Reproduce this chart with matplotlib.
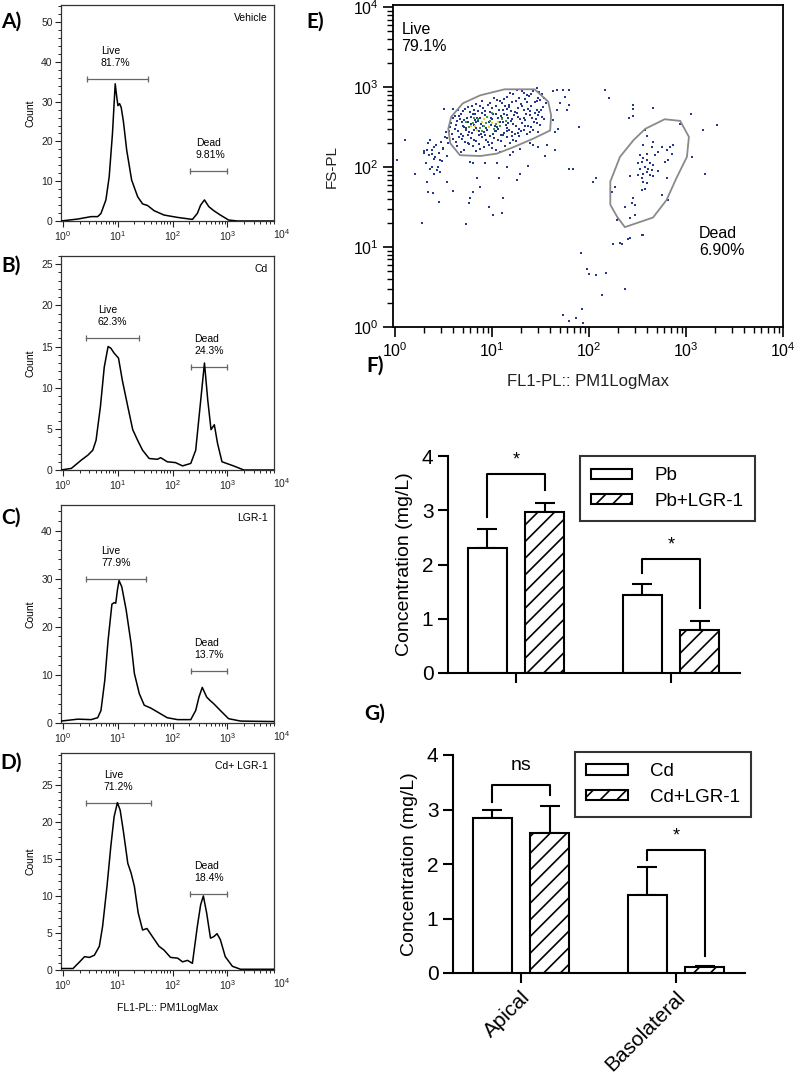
import matplotlib
matplotlib.use("Agg")
import matplotlib.pyplot as plt
import numpy as np
from matplotlib.patches import Polygon
from matplotlib.ticker import LogLocator, NullFormatter, MultipleLocator

plt.rcParams['font.family'] = ['Liberation Sans', 'DejaVu Sans']
plt.rcParams['mathtext.default'] = 'regular'
plt.rcParams['hatch.linewidth'] = 1.2

# ---------------- A-D: FL1 histograms (log10 FL1, count) ----------------
a_log_fl = [-0.04, 0.27, 0.51, 0.63, 0.69, 0.78, 0.84, 0.90, 0.95, 0.98, 1.00, 1.03, 1.06, 1.10,
            1.16, 1.25, 1.36, 1.45, 1.54, 1.66, 1.84, 2.09, 2.36, 2.45, 2.51, 2.58, 2.66, 2.75,
            2.87, 3.02, 3.18, 3.85]
a_count = [0, 0.5, 1.1, 1.1, 1.9, 5.3, 11.1, 22, 34.5, 31, 29, 29.5, 28.5, 25,
           17.8, 10.3, 6.1, 4.3, 3.9, 2.6, 1.5, 0.9, 0.4, 1.9, 4.0, 5.3, 3.6, 2.6,
           1.5, 0.25, 0, 0]

b_log_fl = [-0.04, 0.15, 0.33, 0.45, 0.54, 0.60, 0.68, 0.75, 0.82, 0.87, 0.93, 1.01, 1.08, 1.18,
            1.27, 1.36, 1.45, 1.57, 1.72, 1.78, 1.90, 2.05, 2.18, 2.33, 2.42, 2.50, 2.58, 2.64,
            2.70, 2.76, 2.82, 2.90, 3.11, 3.30, 3.85]
b_count = [0, 0.2, 1.2, 1.8, 2.4, 3.6, 7.7, 12.5, 15.0, 14.8, 14.2, 13.6, 10.9, 7.7,
           4.9, 3.6, 2.4, 1.4, 1.3, 1.5, 1.0, 0.9, 0.5, 0.8, 2.4, 7.7, 13.0, 8.5,
           4.9, 5.5, 3.2, 1.0, 0.5, 0, 0]

c_log_fl = [-0.04, 0.27, 0.51, 0.63, 0.69, 0.76, 0.82, 0.89, 0.93, 0.96, 0.99, 1.02, 1.07, 1.15,
            1.24, 1.30, 1.39, 1.48, 1.60, 1.72, 1.90, 2.09, 2.33, 2.42, 2.48, 2.54, 2.62, 2.68,
            2.75, 2.87, 3.02, 3.24, 3.85]
c_count = [0.4, 0.8, 0.7, 1.1, 2.6, 8.9, 17.2, 24.7, 25, 24.9, 27.6, 29.6, 28.3, 23.5,
           16.5, 10.3, 6.1, 3.7, 3.1, 2.3, 1.1, 0.7, 0.7, 2.6, 5.4, 7.4, 5.4, 4.7,
           4.0, 2.6, 0.9, 0.4, 0.3]

d_log_fl = [-0.04, 0.18, 0.30, 0.39, 0.48, 0.57, 0.66, 0.72, 0.80, 0.87, 0.93, 0.99, 1.04, 1.10,
            1.18, 1.24, 1.30, 1.37, 1.45, 1.53, 1.63, 1.75, 1.84, 1.96, 2.09, 2.18, 2.27, 2.36,
            2.45, 2.51, 2.56, 2.62, 2.69, 2.75, 2.81, 2.87, 2.96, 3.09, 3.24, 3.85]
d_count = [0.2, 0.2, 1.1, 1.8, 1.7, 2.0, 3.2, 5.9, 11.3, 16.7, 20.7, 22.6, 21.6, 18.7,
           14.4, 13.1, 11.3, 7.7, 5.4, 5.6, 4.5, 3.2, 2.7, 1.7, 1.6, 1.1, 1.3, 0.9,
           5.9, 8.8, 10.0, 7.7, 4.3, 4.5, 4.9, 4.1, 1.8, 0.5, 0.1, 0.1]

hist_names = ['Vehicle', 'Cd', 'LGR-1', 'Cd+ LGR-1']
hist_letters = ['A)', 'B)', 'C)', 'D)']
live_pct = ['81.7%', '62.3%', '77.9%', '71.2%']
dead_pct = ['9.81%', '24.3%', '13.7%', '18.4%']
# gate: (log10 start, log10 end, count level, log10 x of label)
live_gates = [(0.43, 1.54, 35.7, 0.69), (0.41, 1.39, 16.0, 0.63),
              (0.41, 1.52, 30.0, 0.69), (0.41, 1.60, 22.5, 0.74)]
dead_gates = [(2.32, 3.00, 12.6, 2.42), (2.33, 3.00, 12.5, 2.40),
              (2.33, 3.00, 10.8, 2.40), (2.32, 2.99, 10.3, 2.39)]
hist_ymax = [54.3, 26.0, 45.3, 29.3]
hist_major = [10, 5, 10, 5]
hist_minor = [2, 1, 2, 1]

# ---------------- E: FL1 vs FS dot plot (log10 values) ----------------
e_live_x = [1.15, 1.22, 1.28, 1.33, 1.38, 1.42, 1.47, 1.52, 1.25, 1.36, 1.44, 1.50, 1.05, 0.98, 1.10, 1.18, 1.30, 1.56,
            0.75, 0.82, 0.88, 0.93, 1.00, 1.07, 1.13, 1.20, 1.27, 1.33, 1.40, 1.46, 1.53, 0.70, 0.96, 1.16, 1.37, 1.49,
            0.62, 0.68, 0.74, 0.80, 0.85, 0.90, 0.95, 1.01, 1.06, 1.12, 1.17, 1.23, 1.29, 1.35, 1.41, 1.47, 1.54,
            0.77, 0.92, 1.09, 1.26, 1.44,
            0.58, 0.64, 0.70, 0.75, 0.81, 0.86, 0.91, 0.97, 1.03, 1.08, 1.14, 1.20, 1.25, 1.31, 1.37, 1.43, 1.50,
            0.67, 0.83, 1.00, 1.17, 1.34,
            0.56, 0.62, 0.68, 0.73, 0.79, 0.84, 0.89, 0.95, 1.01, 1.06, 1.12, 1.18, 1.24, 1.30, 1.36, 1.42,
            0.71, 0.87, 1.04, 1.21, 1.47,
            0.60, 0.66, 0.72, 0.78, 0.84, 0.90, 0.96, 1.02, 1.09, 1.15, 1.22, 1.28, 0.75, 0.93, 1.11,
            0.64, 0.71, 0.80, 0.88, 0.97, 1.04, 1.13, 0.76,
            0.32, 0.35, 0.38, 0.40, 0.42, 0.45, 0.47, 0.50, 0.52, 0.36, 0.44, 0.48, 0.30, 0.54, 0.40, 0.46,
            1.19, 1.31, 1.40, 1.48,
            0.90, 1.02, 1.12, 1.21, 1.34, 1.46, 1.54, 0.84,
            0.72, 0.79, 0.86, 0.91, 0.98, 1.04, 1.11, 1.18, 1.24, 1.31, 1.39, 1.51, 0.65,
            0.60, 0.66, 0.71, 0.78, 0.83, 0.88, 0.93, 0.99, 1.04, 1.10, 1.15, 1.21, 1.27, 1.33, 1.39, 1.45, 1.52,
            0.57, 0.63, 0.69, 0.73, 0.78, 0.84, 0.89, 0.94, 0.99, 1.05, 1.11, 1.16, 1.22, 1.28, 1.34, 1.40, 1.46,
            0.59, 0.65, 0.70, 0.76, 0.81, 0.87, 0.92, 0.98, 1.03, 1.09, 1.15, 1.21, 1.27, 1.33, 1.39,
            0.63, 0.69, 0.75, 0.81, 0.87, 0.94, 1.00, 1.06, 1.19, 1.25,
            0.68, 0.84, 0.92, 1.00, 1.08]
e_live_y = [2.88, 2.91, 2.86, 2.93, 2.89, 2.95, 2.87, 2.92, 2.83, 2.82, 2.81, 2.84, 2.84, 2.80, 2.80, 2.78, 2.79, 2.80,
            2.75, 2.72, 2.77, 2.70, 2.74, 2.71, 2.76, 2.70, 2.74, 2.71, 2.76, 2.72, 2.75, 2.70, 2.78, 2.73, 2.73, 2.69,
            2.64, 2.67, 2.62, 2.66, 2.61, 2.68, 2.63, 2.66, 2.61, 2.67, 2.62, 2.65, 2.60, 2.66, 2.62, 2.65, 2.60,
            2.69, 2.60, 2.64, 2.68, 2.68,
            2.55, 2.58, 2.52, 2.57, 2.53, 2.58, 2.51, 2.56, 2.52, 2.57, 2.53, 2.58, 2.51, 2.55, 2.52, 2.57, 2.53,
            2.60, 2.59, 2.60, 2.55, 2.59,
            2.45, 2.48, 2.42, 2.47, 2.43, 2.49, 2.41, 2.46, 2.42, 2.48, 2.43, 2.47, 2.41, 2.45, 2.42, 2.47,
            2.50, 2.45, 2.45, 2.44, 2.44,
            2.35, 2.38, 2.32, 2.37, 2.33, 2.38, 2.31, 2.36, 2.33, 2.38, 2.34, 2.39, 2.40, 2.40, 2.40,
            2.26, 2.22, 2.27, 2.23, 2.28, 2.21, 2.26, 2.29,
            2.05, 2.15, 2.22, 2.10, 2.28, 2.18, 2.32, 2.24, 2.38, 1.98, 2.00, 2.08, 2.18, 2.14, 1.92, 1.94,
            2.93, 2.95, 2.92, 2.94,
            2.83, 2.86, 2.85, 2.82, 2.85, 2.83, 2.86, 2.79,
            2.73, 2.77, 2.70, 2.74, 2.69, 2.76, 2.72, 2.75, 2.69, 2.77, 2.70, 2.71, 2.72,
            2.61, 2.64, 2.59, 2.63, 2.66, 2.62, 2.65, 2.62, 2.66, 2.61, 2.65, 2.60, 2.63, 2.61, 2.65, 2.60, 2.63,
            2.50, 2.53, 2.56, 2.49, 2.54, 2.56, 2.54, 2.49, 2.53, 2.50, 2.56, 2.49, 2.54, 2.48, 2.52, 2.50, 2.55,
            2.42, 2.45, 2.39, 2.44, 2.47, 2.40, 2.44, 2.39, 2.45, 2.40, 2.45, 2.39, 2.43, 2.47, 2.44,
            2.31, 2.35, 2.30, 2.34, 2.29, 2.34, 2.30, 2.34, 2.30, 2.33,
            2.19, 2.20, 2.25, 2.24, 2.19]
e_core_x = [0.80, 0.86, 0.92, 0.98, 1.04, 0.88, 1.10, 0.76, 0.95, 1.02, 0.82, 0.90, 1.08, 0.73, 1.00, 0.94, 1.14]
e_core_y = [2.55, 2.60, 2.52, 2.58, 2.54, 2.49, 2.60, 2.50, 2.63, 2.48, 2.62, 2.45, 2.52, 2.56, 2.68, 2.55, 2.58]
e_hot_x = [0.83, 0.90, 0.97, 0.85, 1.06, 0.92, 0.78, 1.00]
e_hot_y = [2.52, 2.57, 2.50, 2.46, 2.57, 2.60, 2.52, 2.55]
e_dead_x = [2.457, 2.457, 2.656, 2.457, 2.416, 3.048, 3.316, 2.938, 3.178, 2.577, 2.595, 2.663, 2.56, 2.646, 2.749,
            2.835, 2.869, 2.801, 2.852, 2.595, 2.526, 2.68, 2.715, 2.56, 2.595, 2.543, 2.508, 2.629, 2.818, 2.784,
            2.577, 2.611, 2.646, 2.663, 2.526, 2.595, 2.56, 2.629, 2.543, 2.56, 2.595, 2.577, 2.543, 2.508, 2.715,
            2.801, 2.423, 2.457, 2.44, 2.371, 2.474, 2.474, 2.749, 2.818, 2.285, 2.423, 2.543, 2.25, 2.337, 3.059,
            3.196, 2.663]
e_dead_y = [2.775, 2.73, 2.745, 2.64, 2.61, 2.67, 2.525, 2.54, 2.47, 2.46, 2.39, 2.32, 2.275, 2.255, 2.255,
            2.255, 2.275, 2.21, 2.17, 2.17, 2.15, 2.15, 2.19, 2.11, 2.09, 2.07, 2.05, 2.05, 2.09, 2.07,
            2.00, 1.98, 1.96, 2.025, 1.98, 1.94, 1.92, 1.90, 1.86, 1.82, 1.80, 1.73, 1.71, 1.90, 1.95,
            1.86, 1.89, 1.62, 1.55, 1.50, 1.525, 1.40, 1.65, 1.59, 1.34, 1.11, 1.15, 1.04, 1.04, 2.13,
            1.91, 1.89]
e_other_x = [0.017, 0.103, 0.206, 0.275, 0.326, 0.337, 0.395, 0.457, 0.533, 0.595, 0.732, 0.766, 0.773, 0.808,
             0.842, 0.876, 0.972, 1.007, 1.11, 1.10, 1.075, 1.15, 1.255, 1.289, 1.375, 1.426, 1.546, 1.65,
             1.797, 1.832, 1.90, 1.914, 1.983, 2.003, 2.07, 2.13, 2.175, 1.735, 1.797, 1.866, 1.925, 1.935,
             2.044, 2.072, 2.165, 2.21, 2.371, 2.405, 2.32, 2.553, 2.234, 2.268, 2.296, 2.423,
             1.632, 1.667, 1.735, 1.797, 1.753, 1.797, 1.70, 1.77, 1.673, 1.632, 1.684, 1.65, 1.564, 1.478,
             1.39, 1.289, 1.186, 1.22, 1.048, 0.928, 0.808, 0.773, 0.505, 0.60, 1.46, 1.255, 1.358, 1.082,
             0.361, 0.378, 0.412, 0.326, 0.299, 0.378, 0.43, 0.464, 0.498, 0.55, 0.522, 0.533, 0.344, 0.402]
e_other_y = [2.096, 2.34, 1.92, 1.30, 1.82, 1.69, 1.68, 1.57, 1.82, 1.70, 1.29, 1.55, 1.62, 1.69,
             1.86, 1.75, 1.50, 1.40, 1.62, 1.43, 1.87, 2.00, 1.84, 1.92, 2.02, 2.275, 2.14, 2.22,
             1.98, 1.98, 2.50, 0.93, 0.73, 0.66, 0.65, 0.40, 0.68, 0.15, 0.08, 0.11, 0.22, 0.046,
             1.82, 1.87, 2.96, 2.87, 0.48, 1.10, 1.05, 1.15, 1.69, 1.75, 1.35, 1.37,
             2.95, 2.97, 2.96, 2.97, 2.88, 2.775, 2.80, 2.71, 2.71, 2.59, 2.48, 2.44, 2.275, 2.25,
             2.30, 2.23, 2.15, 2.19, 2.05, 2.05, 2.05, 2.07, 2.73, 2.73, 2.99, 2.96, 2.90, 2.83,
             2.34, 2.17, 2.13, 2.21, 2.20, 2.00, 1.96, 2.09, 2.23, 2.30, 2.44, 2.36, 2.30, 2.25]
live_gate_x = [0.55, 0.58, 0.70, 0.88, 1.13, 1.44, 1.58, 1.61, 1.60, 1.43, 1.22, 1.05, 0.88, 0.67, 0.57]
live_gate_y = [2.48, 2.63, 2.80, 2.90, 2.975, 2.975, 2.82, 2.65, 2.46, 2.36, 2.25, 2.17, 2.14, 2.15, 2.30]
dead_gate_x = [2.22, 2.32, 2.46, 2.58, 2.78, 2.94, 3.03, 3.01, 2.90, 2.80, 2.66, 2.37, 2.29, 2.22]
dead_gate_y = [1.82, 2.13, 2.34, 2.48, 2.60, 2.58, 2.38, 2.13, 1.86, 1.59, 1.37, 1.25, 1.38, 1.53]

# ---------------- F, G: metal concentrations (mg/L) ----------------
sides = ['Apical', 'Basolateral']
pb = [2.31, 1.44]
pb_err = [0.35, 0.20]
pb_lgr = [2.97, 0.79]
pb_lgr_err = [0.16, 0.17]
cd = [2.84, 1.43]
cd_err = [0.15, 0.51]
cd_lgr = [2.57, 0.11]
cd_lgr_err = [0.50, 0.02]
f_marks = ['*', '*']
g_marks = ['ns', '*']


def log_ticks(ax, axis, size):
    loc = getattr(ax, axis + 'axis')
    loc.set_minor_locator(LogLocator(base=10, subs=np.arange(2, 10), numticks=20))
    loc.set_minor_formatter(NullFormatter())
    ticks = [1, 10, 100, 1000, 10000][:size]
    labels = ['$10^{%d}$' % i for i in range(size)]
    if axis == 'x':
        ax.set_xticks(ticks)
        ax.set_xticklabels(labels)
    else:
        ax.set_yticks(ticks)
        ax.set_yticklabels(labels)


def draw_histogram(ax, i, log_fl, count):
    ax.plot(10.0 ** np.array(log_fl), count, color='black', lw=1.1, zorder=3)
    ax.set_xscale('log')
    ax.set_xlim(10 ** -0.04, 10 ** 3.85)
    ax.set_ylim(0, hist_ymax[i])
    log_ticks(ax, 'x', 4)
    ax.yaxis.set_major_locator(MultipleLocator(hist_major[i]))
    ax.yaxis.set_minor_locator(MultipleLocator(hist_minor[i]))
    ax.tick_params(which='major', length=4, width=0.8, labelsize=7.5, pad=2, colors='#222')
    ax.tick_params(which='minor', length=2, width=0.6)
    for s in ax.spines.values():
        s.set_linewidth(0.9)
        s.set_color('#333')
    # the 10^4 label sits just past the clipped right edge
    ax.annotate('$10^{4}$', xy=(10 ** 4, 0), xycoords=('data', 'axes fraction'), xytext=(0, -4.3),
                textcoords='offset points', fontsize=7.5, ha='center', va='top', color='#222')
    ax.set_ylabel('Count', fontsize=7.5, labelpad=4)
    ax.text(0.972, 0.94, hist_names[i], transform=ax.transAxes, ha='right', va='center', fontsize=7.5)
    for gate, txt in [(live_gates[i], 'Live\n' + live_pct[i]), (dead_gates[i], 'Dead\n' + dead_pct[i])]:
        lo, hi, lvl, tx = gate
        ax.plot([10 ** lo, 10 ** hi], [lvl, lvl], color='#666', lw=0.9, marker='|', markersize=5, mew=0.9)
        ax.annotate(txt, (10 ** tx, lvl), xytext=(0, 8), textcoords='offset points',
                    ha='left', va='bottom', fontsize=7.5, linespacing=1.25)
    if i == 3:
        ax.set_xlabel('FL1-PL:: PM1LogMax', fontsize=7.5, labelpad=8)


def draw_dotplot(ax):
    ax.set_xscale('log')
    ax.set_yscale('log')
    blue = '#263a8c'
    groups = [(e_other_x, e_other_y, blue), (e_dead_x, e_dead_y, blue), (e_live_x, e_live_y, blue),
              (e_core_x, e_core_y, '#3a9d3a'), (e_hot_x, e_hot_y, '#e3d43a')]
    for gx, gy, col in groups:
        ax.scatter(10.0 ** np.array(gx), 10.0 ** np.array(gy), s=3.2, marker='s', c=col, lw=0)
    for gx, gy in [(live_gate_x, live_gate_y), (dead_gate_x, dead_gate_y)]:
        pts = np.column_stack([10.0 ** np.array(gx), 10.0 ** np.array(gy)])
        ax.add_patch(Polygon(pts, closed=True, fill=False, edgecolor='#8a8a8a', lw=1.3))
    ax.set_xlim(10 ** -0.02, 10 ** 4)
    ax.set_ylim(1, 10 ** 4.03)
    log_ticks(ax, 'x', 5)
    log_ticks(ax, 'y', 5)
    ax.tick_params(which='major', length=7, width=1.2, labelsize=11.5)
    ax.tick_params(which='minor', length=4, width=1.0)
    for s in ax.spines.values():
        s.set_linewidth(1.3)
    ax.set_xlabel('FL1-PL:: PM1LogMax', fontsize=12, color='#222', labelpad=10)
    ax.set_ylabel('FS-PL', fontsize=11, color='#222', labelpad=10)
    ax.text(0.022, 0.947, 'Live\n79.1%', transform=ax.transAxes, ha='left', va='top', fontsize=11.5)
    ax.text(0.785, 0.315, 'Dead\n6.90%', transform=ax.transAxes, ha='left', va='top', fontsize=11.5)


def draw_bars(ax, base, base_err, treated, treated_err, labels, marks, brackets, show_sides):
    x = np.arange(len(sides))
    w, off = 0.25, 0.186
    ax.errorbar(x - off, base, yerr=[np.zeros(len(base)), base_err], fmt='none', ecolor='black',
                elinewidth=1.5, capsize=7, capthick=1.5, zorder=1)
    ax.errorbar(x + off, treated, yerr=[np.zeros(len(treated)), treated_err], fmt='none', ecolor='black',
                elinewidth=1.5, capsize=7, capthick=1.5, zorder=1)
    ax.bar(x - off, base, w, color='white', edgecolor='black', lw=1.5, label=labels[0], zorder=2)
    ax.bar(x + off, treated, w, color='white', edgecolor='black', lw=1.5, hatch='//', label=labels[1], zorder=2)
    for k, (top, left, right) in enumerate(brackets):
        ax.plot([k - off, k - off, k + off, k + off], [left, top, top, right], color='black', lw=1.5)
        ax.text(k, top + (0.35 if marks[k] == 'ns' else 0.26), marks[k], ha='center', va='center',
                fontsize=14 if marks[k] == 'ns' else 13)
    ax.set_xlim(-0.439, 1.445)
    ax.set_ylim(0, 4)
    ax.set_xticks(x)
    if show_sides:
        ax.set_xticklabels(sides, rotation=45, ha='right', rotation_mode='anchor', fontsize=15)
    else:
        ax.set_xticklabels(['', ''])
    ax.set_yticks([0, 1, 2, 3, 4])
    ax.tick_params(length=7, width=1.5, labelsize=15)
    for s in ['top', 'right']:
        ax.spines[s].set_visible(False)
    for s in ['left', 'bottom']:
        ax.spines[s].set_linewidth(1.5)
    ax.set_ylabel('Concentration (mg/L)', fontsize=14, labelpad=6)


def main():
    fig = plt.figure(figsize=(8, 10.74), dpi=100)
    W, H = 800.0, 1074.0

    def add(left, top, right, bottom):
        return fig.add_axes([left / W, 1 - bottom / H, (right - left) / W, (bottom - top) / H])

    hist_boxes = [(61, 5, 274, 221), (61, 256, 274, 470), (61, 505, 274, 723), (61, 753, 274, 970)]
    hist_data = [(a_log_fl, a_count), (b_log_fl, b_count), (c_log_fl, c_count), (d_log_fl, d_count)]
    letter_y = [22, 266, 518, 763]
    for i in range(4):
        ax = add(*hist_boxes[i])
        draw_histogram(ax, i, *hist_data[i])
        fig.text(11 / W, 1 - letter_y[i] / H, hist_letters[i], fontsize=15, fontweight='bold',
                 family='Lato', ha='center', va='center')

    ax_e = add(393, 5, 783, 327)
    draw_dotplot(ax_e)
    fig.text(315 / W, 1 - 22 / H, 'E)', fontsize=15, fontweight='bold', family='Lato', ha='center', va='center')

    ax_f = add(448, 456, 740, 673)
    draw_bars(ax_f, pb, pb_err, pb_lgr, pb_lgr_err, ['Pb', 'Pb+LGR-1'], f_marks,
              [(3.67, 2.87, 3.38), (2.10, 1.84, 1.20)], False)
    leg = ax_f.legend(loc='upper left', bbox_to_anchor=(0.452, 1.0), fancybox=False, edgecolor='black',
                      fontsize=13.5, handlelength=2.2, handleheight=0.45, handletextpad=1.2,
                      labelspacing=0.45, borderpad=0.6, borderaxespad=0)
    leg.get_frame().set_linewidth(1.5)
    fig.text(375 / W, 1 - 366 / H, 'F)', fontsize=15, fontweight='bold', family='Lato', ha='center', va='center')

    ax_g = add(453, 755, 745, 973)
    draw_bars(ax_g, cd, cd_err, cd_lgr, cd_lgr_err, ['Cd', 'Cd+LGR-1'], g_marks,
              [(3.45, 3.14, 3.27), (2.26, 2.07, 0.31)], True)
    leg = ax_g.legend(loc='upper left', bbox_to_anchor=(0.418, 1.014), fancybox=False, edgecolor='black',
                      fontsize=13.5, handlelength=2.2, handleheight=0.45, handletextpad=1.2,
                      labelspacing=0.45, borderpad=0.6, borderaxespad=0)
    leg.get_frame().set_linewidth(1.5)
    fig.text(375 / W, 1 - 714 / H, 'G)', fontsize=15, fontweight='bold', family='Lato', ha='center', va='center')

    fig.savefig('out.png', dpi=100)


if __name__ == "__main__":
    main()
